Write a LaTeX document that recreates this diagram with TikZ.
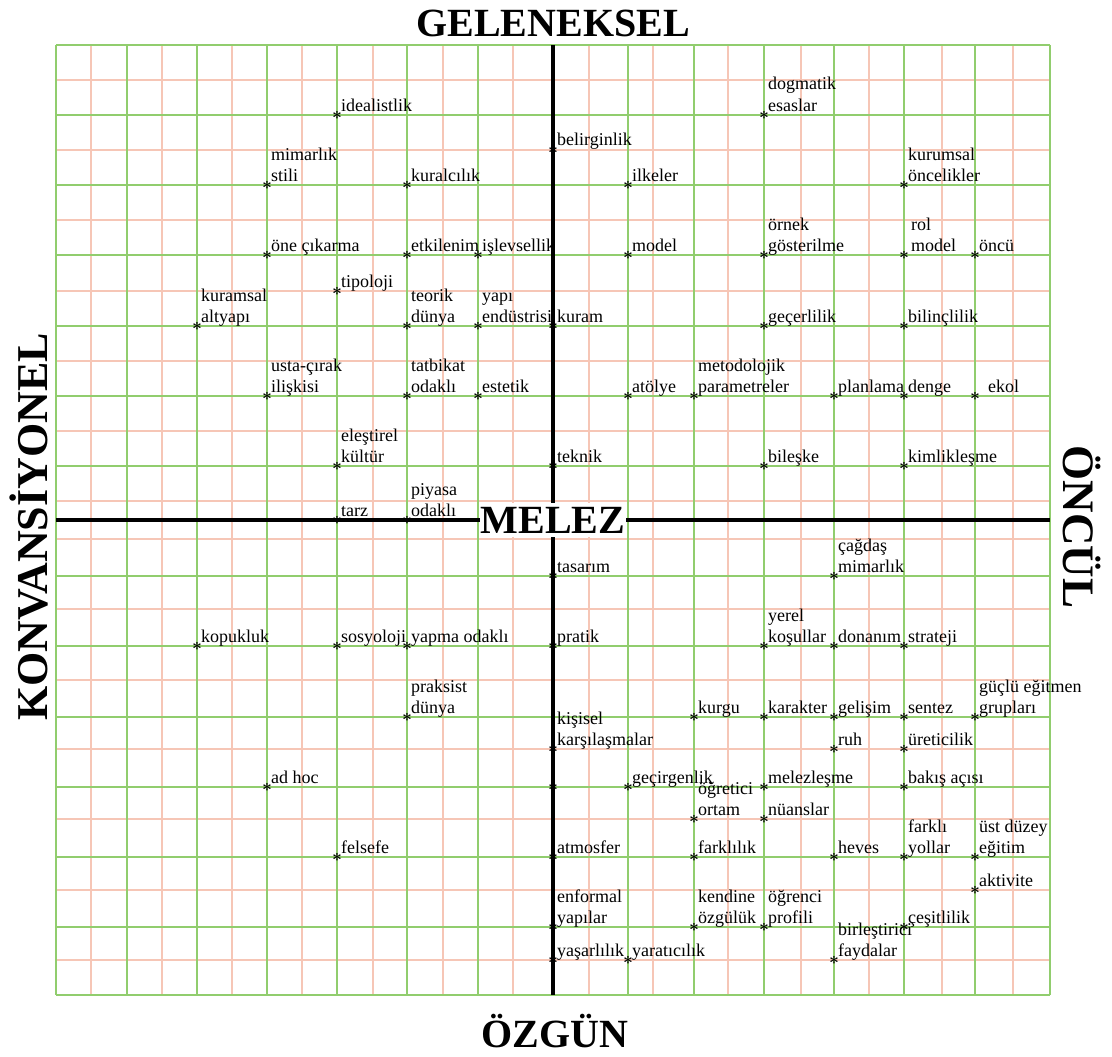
\documentclass[tikz,border=0pt]{standalone}
\usepackage{fontspec}
\setmainfont{Liberation Serif}

\definecolor{gridgreen}{RGB}{145,205,110}
\definecolor{gridpink}{RGB}{246,198,182}

% two line term, last line sits on the base
\newcommand{\twoline}[2]{\begin{tabular}[b]{@{}l@{}}#1\\#2\end{tabular}}

\begin{document}
\begin{tikzpicture}[x=1pt, y=-1pt,
    minor/.style={gridpink, line width=1.3pt},
    major/.style={gridgreen, line width=1.7pt},
    axis/.style={black, line width=3.2pt},
    asterisk/.style={inner sep=0pt, font=\fontsize{16}{16}\selectfont\boldmath},
    term/.style={anchor=base west, inner sep=0pt, font=\fontsize{18}{21}\selectfont},
    pole/.style={inner sep=0pt, font=\fontsize{40}{40}\selectfont\bfseries}]

    \useasboundingbox (0,0) rectangle (1112,1057);

    % Grid
    \foreach \gx in {91,162,232,302,373,443,513,589,653,728,801,869,942,1013}
        \draw[minor] (\gx,45) -- (\gx,995);
    \foreach \gy in {80,150,220,291,361,431,501,539,609,680,749,819,890,960}
        \draw[minor] (56,\gy) -- (1050,\gy);
    \foreach \gx in {56,127,197,267,337,407,478,628,694,764,834,904,975,1050}
        \draw[major] (\gx,45) -- (\gx,995);
    \foreach \gy in {45,115,185,255,326,396,466,576,646,717,787,857,927,995}
        \draw[major] (56,\gy) -- (1050,\gy);

    % Axes
    \node[pole, fill=white, inner xsep=1pt, inner ysep=4pt] (melez) at (553,520) {MELEZ};
    \coordinate (north) at (553,45);
    \coordinate (south) at (553,995);
    \coordinate (west) at (56,520);
    \coordinate (east) at (1050,520);
    \draw[axis] (north) -- (melez.north);
    \draw[axis] (melez.south) -- (south);
    \draw[axis] (west) -- (melez.west);
    \draw[axis] (melez.east) -- (east);

    % Poles
    \node[pole, anchor=base] (geleneksel) at (553,37) {GELENEKSEL};
    \node[pole, anchor=base] (ozgun) at (555,1047) {ÖZGÜN};
    \node[pole, anchor=base, rotate=90, font=\fontsize{44}{44}\selectfont\bfseries] (konvansiyonel) at (47,527) {KONVANSİYONEL};
    \node[pole, anchor=base, rotate=-90, font=\fontsize{45}{45}\selectfont\bfseries] (oncul) at (1063,527) {ÖNCÜL};

    % Terms
    \foreach \x/\y/\txt [count=\i] in {
        337/115/idealistlik,
        267/185/\twoline{mimarlık}{stili},
        407/185/kuralcılık,
        267/255/öne çıkarma,
        407/255/etkilenim,
        478/255/işlevsellik,
        337/291/tipoloji,
        197/326/\twoline{kuramsal}{altyapı},
        407/326/\twoline{teorik}{dünya},
        478/326/\twoline{yapı}{endüstrisi},
        267/396/\twoline{usta-çırak}{ilişkisi},
        407/396/\twoline{tatbikat}{odaklı},
        478/396/estetik,
        337/466/\twoline{eleştirel}{kültür},
        337/520/tarz,
        407/520/\twoline{piyasa}{odaklı},
        553/150/belirginlik,
        553/326/kuram,
        553/466/teknik,
        628/185/ilkeler,
        628/255/model,
        628/396/atölye,
        764/115/\twoline{dogmatik}{esaslar},
        764/255/\twoline{örnek}{gösterilme},
        764/326/geçerlilik,
        694/396/\twoline{metodolojik}{parametreler},
        834/396/planlama,
        904/396/denge,
        764/466/bileşke,
        904/466/kimlikleşme,
        904/185/\twoline{kurumsal}{öncelikler},
        975/255/öncü,
        904/326/bilinçlilik,
        197/646/kopukluk,
        337/646/sosyoloji,
        407/646/yapma odaklı,
        407/717/\twoline{praksist}{dünya},
        267/787/ad hoc,
        337/857/felsefe,
        553/576/tasarım,
        553/646/pratik,
        553/749/\twoline{kişisel}{karşılaşmalar},
        553/857/atmosfer,
        553/927/\twoline{enformal}{yapılar},
        553/960/yaşarlılık,
        628/960/yaratıcılık,
        834/576/\twoline{çağdaş}{mimarlık},
        764/646/\twoline{yerel}{koşullar},
        834/646/donanım,
        904/646/strateji,
        694/717/kurgu,
        764/717/karakter,
        834/717/gelişim,
        904/717/sentez,
        975/717/\twoline{güçlü eğitmen}{grupları},
        834/749/ruh,
        904/749/üreticilik,
        628/787/geçirgenlik,
        764/787/melezleşme,
        904/787/bakış açısı,
        694/819/\twoline{öğretici}{ortam},
        764/819/nüanslar,
        694/857/farklılık,
        834/857/heves,
        904/857/\twoline{farklı}{yollar},
        975/857/\twoline{üst düzey}{eğitim},
        975/890/aktivite,
        694/927/\twoline{kendine}{özgülük},
        764/927/\twoline{öğrenci}{profili},
        904/927/çeşitlilik,
        834/960/\twoline{birleştirici}{faydalar}}
    {
        \node[asterisk] (p\i) at (\x,\y) {$\ast$};
        \node[term] (t\i) at ([xshift=4pt, yshift=4pt]p\i.center) {\txt};
    }

    % terms set a little further off
    \node[asterisk] (prol) at (904,255) {$\ast$};
    \node[term] (trol) at ([xshift=7pt, yshift=4pt]prol.center) {\twoline{rol}{model}};
    \node[asterisk] (pekol) at (975,396) {$\ast$};
    \node[term] (tekol) at ([xshift=13pt, yshift=4pt]pekol.center) {ekol};
    \node[asterisk] (paxis) at (553,787) {$\ast$};
\end{tikzpicture}
\end{document}
